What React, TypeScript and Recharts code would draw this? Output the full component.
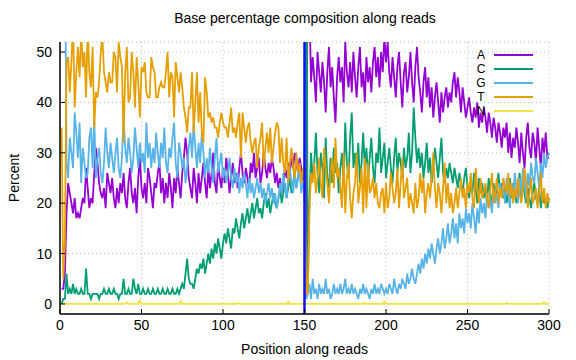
import React from "react";
import {
  CartesianGrid,
  Legend,
  Line,
  LineChart,
  ReferenceLine,
  XAxis,
  YAxis,
} from "recharts";

// percent of each base at read positions 1..300
const baseA = [
  3, 3, 6, 18, 24, 22, 20, 18, 21, 17,
  18, 17, 19, 21, 20, 27, 23, 19, 21, 20,
  26, 31, 28, 24, 22, 21, 23, 19, 26, 24,
  22, 25, 21, 19, 23, 20, 24, 22, 26, 21,
  19, 24, 27, 22, 20, 23, 18, 25, 29, 23,
  21, 24, 20, 27, 25, 22, 19, 24, 23, 26,
  28, 22, 25, 20, 24, 21, 26, 23, 19, 25,
  22, 27, 24, 21, 26, 29, 33, 30, 25, 23,
  21, 27, 24, 20, 26, 22, 25, 28, 24, 21,
  27, 23, 26, 30, 24, 22, 28, 25, 23, 27,
  24, 29, 26, 22, 25, 28, 24, 26, 23, 27,
  30, 26, 24, 27, 25, 23, 28, 26, 30, 25,
  27, 29, 24, 26, 30, 27, 25, 28, 26, 29,
  27, 24, 26, 23, 25, 22, 24, 27, 25, 28,
  26, 29, 27, 30, 28, 26, 29, 27, 25, 27,
  1, 92, 60, 44, 49, 45, 40, 50, 46, 42,
  48, 44, 38, 46, 51, 43, 47, 41, 36, 45,
  49, 44, 47, 40, 52, 46, 43, 48, 42, 50,
  45, 41, 47, 51, 43, 46, 40, 49, 44, 47,
  42, 48, 51, 45, 49, 43, 50, 46, 53, 48,
  52, 46, 43, 49, 45, 41, 47, 50, 44, 39,
  46, 48, 42, 45, 50, 44, 40, 47, 51, 45,
  42, 38, 44, 47, 41, 45, 39, 43, 37, 41,
  44, 40, 36, 42, 38, 41, 43, 39, 42, 40,
  44, 46, 41, 45, 42, 38, 43, 40, 37, 39,
  41, 38, 36, 39, 37, 40, 35, 38, 36, 39,
  37, 34, 38, 36, 33, 37, 35, 32, 36, 34,
  31, 35, 33, 36, 30, 34, 29, 33, 31, 35,
  32, 28, 34, 30, 27, 33, 36, 31, 29, 34,
  32, 28, 35, 31, 27, 33, 30, 34, 29, 29,
];

const baseC = [
  0, 1, 1, 6, 2, 3, 2, 4, 2, 3,
  2, 2, 3, 2, 2, 7, 2, 2, 1, 2,
  2, 2, 2, 1, 2, 2, 3, 2, 2, 3,
  2, 2, 3, 2, 2, 1, 2, 2, 5, 2,
  2, 3, 2, 2, 5, 3, 2, 4, 2, 2,
  3, 2, 2, 3, 2, 2, 3, 2, 2, 3,
  2, 2, 3, 2, 2, 3, 2, 2, 3, 2,
  2, 3, 2, 3, 4, 3, 6, 9, 5, 4,
  4, 3, 5, 7, 6, 8, 7, 9, 6, 8,
  10, 8, 11, 9, 12, 10, 13, 11, 9, 12,
  14, 12, 15, 13, 11, 15, 14, 17, 15, 13,
  16, 18, 15, 17, 19, 16, 18, 20, 17, 19,
  21, 18, 19, 17, 20, 22, 19, 21, 18, 20,
  22, 20, 19, 21, 23, 20, 22, 24, 21, 23,
  25, 22, 24, 26, 23, 25, 27, 24, 26, 25,
  96, 3, 20, 30, 25, 28, 34, 26, 22, 30,
  27, 21, 33, 25, 23, 29, 24, 31, 26, 28,
  22, 27, 30, 24, 36, 28, 25, 33, 38, 27,
  30, 26, 32, 24, 28, 34, 27, 31, 25, 29,
  33, 27, 24, 30, 28, 35, 26, 29, 32, 25,
  28, 31, 27, 24, 29, 33, 26, 30, 28, 25,
  31, 27, 29, 34, 26, 30, 39, 33, 28, 31,
  27, 30, 25, 28, 32, 26, 29, 24, 27, 31,
  28, 25, 29, 33, 26, 24, 27, 25, 28, 26,
  24, 27, 25, 23, 26, 24, 22, 25, 27, 23,
  21, 24, 22, 26, 23, 20, 25, 22, 24, 21,
  23, 20, 25, 22, 19, 24, 21, 23, 26, 22,
  24, 21, 23, 20, 22, 25, 21, 24, 22, 20,
  23, 26, 21, 24, 22, 20, 23, 21, 19, 22,
  24, 21, 20, 23, 19, 22, 20, 21, 19, 21,
];

const baseG = [
  60, 88, 80, 28, 25, 33, 30, 27, 38, 34,
  29, 36, 24, 31, 28, 25, 26, 33, 35, 27,
  37, 25, 29, 31, 26, 24, 28, 35, 30, 27,
  32, 29, 26, 30, 33, 27, 25, 29, 37, 31,
  28, 33, 30, 26, 29, 35, 31, 27, 32, 28,
  30, 26, 36, 29, 32, 27, 31, 28, 34, 30,
  27, 32, 29, 35, 28, 26, 31, 29, 33, 36,
  28, 25, 32, 30, 27, 29, 24, 27, 31, 34,
  29, 36, 31, 27, 32, 28, 34, 30, 25, 29,
  26, 31, 27, 24, 29, 33, 26, 28, 30, 25,
  27, 24, 26, 29, 25, 23, 27, 24, 26, 22,
  25, 23, 26, 24, 21, 25, 22, 24, 21, 23,
  25, 22, 24, 21, 23, 20, 22, 24, 21, 23,
  20, 22, 19, 21, 24, 22, 26, 23, 21, 25,
  27, 24, 22, 26, 23, 25, 27, 22, 24, 22,
  1, 2, 4, 1, 5, 2, 3, 1, 4, 2,
  3, 2, 5, 2, 3, 1, 2, 4, 2, 3,
  2, 4, 2, 3, 5, 2, 3, 2, 4, 2,
  3, 2, 1, 3, 2, 4, 2, 3, 2, 1,
  3, 2, 4, 2, 3, 2, 4, 3, 2, 3,
  2, 4, 3, 2, 5, 3, 2, 4, 3, 5,
  4, 3, 6, 4, 5, 7, 5, 4, 6, 8,
  6, 9, 7, 10, 8, 11, 9, 12, 10, 8,
  11, 13, 10, 12, 15, 11, 13, 16, 12, 14,
  17, 13, 16, 12, 18, 15, 17, 14, 19, 16,
  18, 15, 20, 17, 14, 19, 16, 21, 18, 20,
  17, 22, 19, 21, 18, 23, 20, 22, 19, 24,
  21, 23, 20, 25, 22, 19, 24, 21, 26, 23,
  20, 25, 22, 27, 24, 21, 26, 23, 28, 25,
  24, 29, 26, 23, 28, 25, 30, 27, 29, 30,
];

const baseT = [
  35, 5, 12, 48, 49, 42, 48, 56, 39, 46,
  51, 45, 54, 47, 50, 41, 55, 46, 43, 51,
  35, 42, 41, 44, 50, 53, 46, 44, 42, 46,
  44, 44, 50, 49, 42, 52, 49, 47, 32, 46,
  51, 40, 41, 50, 46, 39, 49, 44, 37, 47,
  46, 48, 42, 41, 41, 49, 47, 46, 41, 41,
  43, 44, 43, 43, 46, 50, 41, 46, 45, 37,
  48, 45, 42, 46, 43, 39, 37, 34, 39, 39,
  46, 34, 40, 46, 36, 42, 34, 32, 45, 42,
  37, 38, 36, 37, 35, 35, 33, 36, 38, 36,
  35, 35, 33, 36, 39, 34, 35, 33, 36, 38,
  29, 38, 35, 32, 35, 36, 32, 30, 32, 33,
  27, 31, 33, 36, 27, 31, 34, 30, 35, 28,
  31, 34, 36, 35, 28, 33, 28, 26, 33, 24,
  28, 31, 27, 25, 30, 26, 28, 24, 27, 25,
  2, 2, 18, 26, 24, 28, 22, 25, 29, 24,
  21, 31, 27, 24, 20, 26, 29, 23, 33, 25,
  27, 23, 19, 30, 18, 25, 28, 21, 17, 22,
  24, 30, 20, 23, 27, 18, 29, 19, 28, 22,
  23, 25, 21, 24, 20, 19, 22, 23, 18, 24,
  19, 21, 26, 23, 20, 22, 27, 19, 24, 29,
  21, 23, 25, 19, 22, 20, 18, 24, 19, 21,
  26, 22, 25, 18, 22, 24, 21, 25, 30, 23,
  19, 24, 22, 18, 23, 28, 20, 24, 19, 22,
  18, 20, 23, 19, 22, 25, 21, 23, 19, 24,
  22, 26, 21, 19, 27, 23, 20, 25, 21, 22,
  24, 21, 19, 23, 26, 20, 22, 25, 20, 23,
  21, 25, 23, 22, 26, 21, 24, 20, 23, 21,
  25, 22, 20, 23, 27, 24, 19, 22, 25, 20,
  21, 23, 19, 22, 26, 20, 23, 19, 22, 20,
];

const baseN = [
  0, 0, 0, 0, 0, 0, 0, 0, 0, 0,
  0, 0, 0, 0, 0, 0, 0, 0, 0, 0,
  0, 0, 0, 0, 0, 0, 0, 0, 0, 0,
  0, 0, 0, 0, 0, 0, 0, 0, 0, 0,
  0.3, 0, 0, 0, 0, 0, 0, 0, 0.7, 0,
  0, 0, 0, 0, 0, 0, 0, 0, 0, 0,
  0, 0, 0, 0, 0, 0, 0, 0, 0, 0,
  0, 0, 0, 0.6, 0, 0, 0, 0, 0, 0,
  0, 0, 0, 0, 0, 0, 0, 0, 0, 0,
  0, 0, 0, 0, 0, 0, 0, 0, 0, 0,
  0, 0, 0, 0, 0, 0, 0, 0, 0, 0.2,
  0, 0, 0, 0, 0, 0, 0, 0, 0, 0,
  0, 0, 0, 0, 0, 0, 0, 0, 0, 0,
  0, 0, 0, 0, 0, 0, 0, 0, 0, 0.5,
  0, 0, 0, 0, 0, 0, 0, 0, 0, 0.2,
  0, 0, 0, 0, 0, 0, 0, 0, 0, 0,
  0, 0, 0, 0, 0, 0, 0, 0, 0, 0,
  0, 0, 0, 0, 0, 0, 0, 0, 0, 0,
  0, 0, 0, 0, 0, 0, 0.2, 0, 0, 0,
  0, 0, 0, 0, 0, 0, 0, 0, 0.5, 0,
  0, 0, 0, 0, 0, 0, 0, 0, 0, 0,
  0, 0, 0, 0, 0, 0, 0, 0, 0, 0,
  0, 0, 0, 0, 0, 0, 0, 0, 0, 0,
  0, 0, 0, 0, 0, 0, 0, 0, 0, 0,
  0, 0, 0, 0, 0, 0, 0, 0, 0, 0,
  0, 0, 0, 0, 0, 0, 0, 0, 0, 0,
  0, 0, 0, 0, 0, 0, 0, 0, 0, 0,
  0, 0, 0, 0.2, 0, 0, 0, 0, 0, 0,
  0, 0, 0, 0, 0, 0, 0, 0, 0, 0,
  0, 0, 0, 0, 0, 0, 0.4, 0, 0, 0,
];

const xTicks = [0, 50, 100, 150, 200, 250, 300];
const yTicks = [0, 10, 20, 30, 40, 50];

const bases = [
  { key: "A", color: "#9400d3" },
  { key: "C", color: "#009e73" },
  { key: "G", color: "#56b4e9" },
  { key: "T", color: "#e69f00" },
  { key: "N", color: "#f0e442" },
];

const data = baseA.map((a, i) => ({
  pos: i + 1,
  A: a,
  C: baseC[i],
  G: baseG[i],
  T: baseT[i],
  N: baseN[i],
}));

const font = "'Liberation Sans', Arial, sans-serif";
const fontSize = 14;
const tickStyle = { fill: "#000", fontSize, fontFamily: font };

function BaseKey() {
  return (
    <div style={{ fontFamily: font, fontSize: 12, color: "#000", lineHeight: "14px" }}>
      {bases.map((b) => (
        <div key={b.key} style={{ display: "flex", alignItems: "center", height: 14 }}>
          <span style={{ width: 14, textAlign: "center", marginRight: 6 }}>{b.key}</span>
          <svg width={39} height={4}>
            <line x1={0} y1={2} x2={39} y2={2} stroke={b.color} strokeWidth={2} />
          </svg>
        </div>
      ))}
    </div>
  );
}

export default function App() {
  return (
    <div style={{ position: "absolute", left: 0, top: 0, width: 576, height: 360, background: "#fff" }}>
      <div
        style={{
          position: "absolute",
          left: 0,
          top: 10,
          width: 610,
          textAlign: "center",
          fontFamily: font,
          fontSize,
          color: "#000",
        }}
      >
        Base percentage composition along reads
      </div>
      <LineChart
        width={576}
        height={360}
        data={data}
        margin={{ top: 42, right: 27, left: 0, bottom: 0 }}
      >
        <CartesianGrid stroke="#c0c0c0" strokeDasharray="1 3" />
        <XAxis
          dataKey="pos"
          type="number"
          domain={[0, 300]}
          ticks={xTicks}
          height={46}
          tickSize={-5}
          tickMargin={11}
          tick={tickStyle}
          stroke="#000"
          axisLine={{ stroke: "#000", strokeWidth: 1.5 }}
          label={{ value: "Position along reads", position: "insideBottom", offset: 6, style: tickStyle }}
        />
        <XAxis
          xAxisId="top"
          orientation="top"
          dataKey="pos"
          type="number"
          domain={[0, 300]}
          ticks={xTicks}
          height={0}
          tickSize={-5}
          tickFormatter={() => ""}
          stroke="#000"
          axisLine={{ stroke: "#000", strokeWidth: 1.5 }}
        />
        <YAxis
          type="number"
          domain={[-2, 52]}
          allowDataOverflow
          ticks={yTicks}
          width={60}
          tickSize={-5}
          tickMargin={13}
          tick={tickStyle}
          stroke="#000"
          axisLine={{ stroke: "#000", strokeWidth: 1.5 }}
          label={{ value: "Percent", angle: -90, position: "insideLeft", offset: 14, style: { ...tickStyle, textAnchor: "middle" } }}
        />
        <YAxis
          yAxisId="right"
          orientation="right"
          type="number"
          domain={[-2, 52]}
          ticks={yTicks}
          width={0}
          tickSize={-5}
          tickFormatter={() => ""}
          stroke="#000"
          axisLine={{ stroke: "#000", strokeWidth: 1.5 }}
        />
        <Legend
          layout="vertical"
          align="center"
          verticalAlign="middle"
          content={<BaseKey />}
          wrapperStyle={{ left: 474, top: 48, width: 70 }}
        />
        {bases.map((b) => (
          <Line
            key={b.key}
            type="linear"
            dataKey={b.key}
            stroke={b.color}
            strokeWidth={1.8}
            dot={false}
            isAnimationActive={false}
          />
        ))}
        <ReferenceLine x={150} stroke="#1010ff" strokeWidth={2.5} />
      </LineChart>
    </div>
  );
}
